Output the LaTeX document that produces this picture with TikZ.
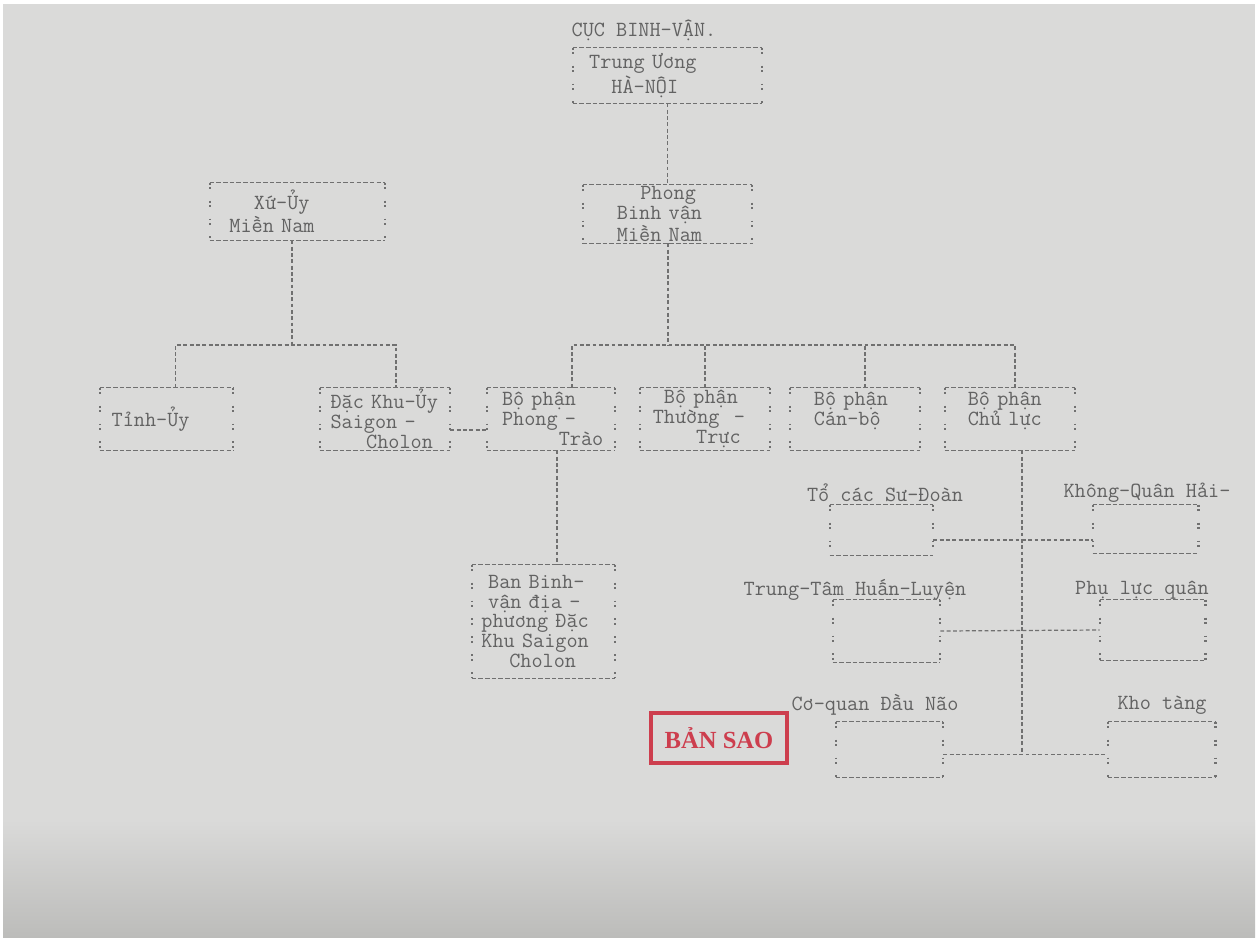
\documentclass[tikz,border=0pt]{standalone}
\usepackage{fontspec}
\newfontfamily\stampfont{Liberation Serif}
\usetikzlibrary{calc}
\definecolor{inkc}{RGB}{98,98,98}
\definecolor{linec}{RGB}{112,112,112}
\definecolor{paper}{RGB}{218,218,217}
\definecolor{paperlo}{RGB}{188,188,186}
\definecolor{stampred}{RGB}{205,62,78}
\newcommand{\tw}{\ttfamily\fontsize{12.3}{11.3}\selectfont}
\newcommand{\tcol}[1]{\hspace*{#1\fontdimen2\font}}
\tikzset{
  tbox/.style={font=\tw,text=inkc,align=left,inner xsep=0.1cm,inner ysep=0pt,text width=#1},
  ebox/.style 2 args={minimum width=#1,minimum height=#2,inner sep=0pt},
  title/.style={font=\tw,text=inkc,inner sep=0pt},
  hrule/.style={linec,line width=0.8pt,dash pattern=on 2.6pt off 1.2pt},
  vrule/.style={linec,line width=1.3pt,dash pattern=on 1.1pt off 1.5pt on 1.1pt off 6.5pt},
  link/.style={linec,line width=0.7pt,dash pattern=on 2.2pt off 1.4pt},
  stampbox/.style={draw=stampred,line width=1.8pt,text=stampred,inner sep=0pt,
    font=\stampfont\bfseries\fontsize{14}{14}\selectfont,minimum width=2.72cm,minimum height=1cm}
}
\begin{document}
\begin{tikzpicture}[x=0.02cm,y=-0.02cm]
  \useasboundingbox (0,0) rectangle (1260,937);
  \fill[white] (0,0) rectangle (1260,937);
  \fill[paper] (3,4) rectangle (1255,937);
  \shade[top color=paper,bottom color=paperlo] (3,820) rectangle (1255,937);

  % top of the chart
  \node[title] (hdr) at (644,30) {CỤC BINH-VẬN.};
  \node[tbox=3.58cm,minimum height=1.1cm] (trung) at (667.5,75.5) {\tcol{1}Trung~Ương\\\tcol{3}HÀ-NỘI};
  \node[tbox=3.18cm,minimum height=1.16cm] (phong) at (667.5,214) {\tcol{4.7}Phong\\\tcol{2.6}Binh~vận\\\tcol{2.6}Miền~Nam};
  \node[tbox=3.3cm,minimum height=1.14cm] (xuuy) at (297.5,211.5) {\tcol{3.5}Xứ-Ủy\\\tcol{1.3}Miền~Nam};

  % second row
  \node[tbox=2.46cm,minimum height=1.24cm] (tinh) at (166.5,419) {\tcol{.6}Tỉnh-Ủy};
  \node[tbox=2.4cm,minimum height=1.24cm] (dackhu) at (385,419) {\tcol{.5}Đặc~Khu-Ủy\\\tcol{.5}Saigon~-\\\tcol{3.7}Cholon};
  \node[tbox=2.36cm,minimum height=1.24cm] (phtrao) at (551,419) {\tcol{.9}Bộ~phận\\\tcol{.9}Phong~-\\\tcol{6}Trào};
  \node[tbox=2.4cm,minimum height=1.24cm] (thtruc) at (705,419) {\tcol{1.7}Bộ~phận\\\tcol{.7}Thường~~-\\\tcol{4.6}Trực};
  \node[tbox=2.4cm,minimum height=1.24cm] (canbo) at (855,419) {\tcol{1.7}Bộ~phận\\\tcol{1.7}Cán-bộ\\\mbox{}};
  \node[tbox=2.4cm,minimum height=1.24cm] (chuluc) at (1010,419) {\tcol{1.6}Bộ~phận\\\tcol{1.6}Chủ~lực\\\mbox{}};
  \node[tbox=2.66cm,minimum height=2.26cm] (banbv) at (543.5,621.5) {\tcol{1}Ban~Binh-\\\tcol{1}vận~địa~-\\\tcol{.4}phương~Đặc\\\tcol{.4}Khu~Saigon\\\tcol{2.9}Cholon};

  % units under Bo phan Chu luc
  \node[ebox={2.06cm}{1cm}] (sudoan) at (881.5,530) {};
  \node[ebox={2.1cm}{0.96cm}] (khongq) at (1145.5,529) {};
  \node[ebox={2.14cm}{1.24cm}] (trungtam) at (886.5,631) {};
  \node[ebox={2.1cm}{1.2cm}] (phuluc) at (1152.5,630) {};
  \node[ebox={2.14cm}{1.1cm}] (coquan) at (889.5,749.5) {};
  \node[ebox={2.14cm}{1.1cm}] (kho) at (1161.5,749.5) {};
  \node[title] (sudoanT) at (885,493) {Tổ các Sư-Đoàn};
  \node[title] (khongqT) at (1147,493) {Không-Quân Hải-};
  \node[title] (trungtamT) at (855,590) {Trung-Tâm Huấn-Luyện};
  \node[title] (phulucT) at (1142,590) {Phụ lực quân};
  \node[title] (coquanT) at (875,705) {Cơ-quan Đầu Não};
  \node[title] (khoT) at (1162,705) {Kho tàng};

  \node[stampbox] (stamp) at (719,738) {BẢN SAO};

  % typed box edges
  \foreach \b in {trung,phong,xuuy,tinh,dackhu,phtrao,thtruc,canbo,chuluc,banbv,sudoan,khongq,trungtam,phuluc,coquan,kho}{
    \draw[hrule] (\b.north west) -- (\b.north east) (\b.south west) -- (\b.south east);
    \draw[vrule] (\b.north west) -- (\b.south west) (\b.north east) -- (\b.south east);
  }

  % connectors
  \coordinate (lbus) at (292,345);
  \coordinate (rbus) at (668,345);
  \draw[link] (trung.south) -- (phong.north);
  \draw[link] (xuuy.south -| lbus) -- (lbus);
  \draw[link] ($(tinh.north)+(9,0)$) |- (lbus) -| ($(dackhu.north)+(11,0)$);
  \draw[link] (phong.south -| rbus) -- (rbus);
  \draw[link] ($(phtrao.north)+(21,0)$) |- (rbus) -| ($(chuluc.north)+(5,0)$);
  \draw[link] (thtruc.north) -- (thtruc.north |- rbus);
  \draw[link] ($(canbo.north)+(10,0)$) coordinate (cb) -- (cb |- rbus);
  \draw[link] ($(dackhu.east)+(0,11)$) -- ($(phtrao.west)+(0,11)$);
  \draw[link] ($(phtrao.south)+(6,0)$) coordinate (pb) -- (pb |- banbv.north);
  \draw[link] ($(sudoan.east)+(0,10)$) -- ($(khongq.west)+(0,11)$);
  \draw[link] (trungtam.east) -- (phuluc.west);
  \draw[link] ($(coquan.east)+(0,5)$) coordinate (cq) -- ($(kho.west)+(0,5)$);
  \draw[link] ($(chuluc.south)+(12,0)$) coordinate (cl) -- (cl |- cq);
\end{tikzpicture}
\end{document}
